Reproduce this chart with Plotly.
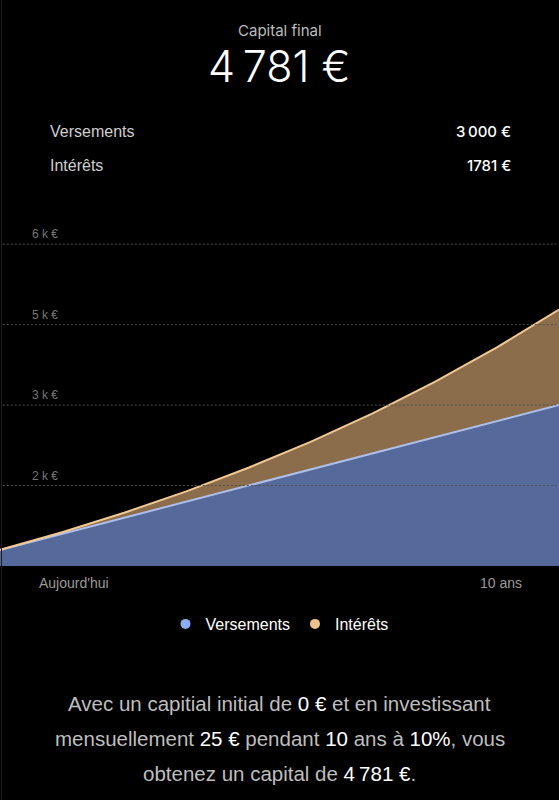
import plotly.graph_objects as go

# ---- data ----
years = [1, 2, 3, 4, 5, 6, 7, 8, 9, 10]
versements = [300, 600, 900, 1200, 1500, 1800, 2100, 2400, 2700, 3000]
interets = [0, 30, 93, 192, 332, 515, 746, 1031, 1374, 1781]
ytick_vals = [1500, 3000, 4500, 6000]
ytick_text = ["2\u00a0k\u00a0€", "3\u00a0k\u00a0€", "5\u00a0k\u00a0€", "6\u00a0k\u00a0€"]
x_labels = ["Aujourd'hui", "10 ans"]
summary_labels = ["Versements", "Intérêts"]
summary_values = ["3\u202f000\u00a0€", "1781\u00a0€"]
final_label = "Capital final"
final_value = "4\u2009781 €"

W, H = 559, 800
T, B = 220, 234
PLOT_BOTTOM = H - B
PLOT_H = H - T - B

def py(p):
    return (PLOT_BOTTOM - p) / PLOT_H

def px(p):
    return p / W

FONT = "Liberation Sans, Arial, sans-serif"
BLUE_FILL = "#56699B"
BLUE_LINE = "#AEBFEA"
OR_FILL = "#8B6D4C"
OR_LINE = "#F3C891"

fig = go.Figure()
fig.add_trace(go.Scatter(x=years, y=versements, stackgroup="s", mode="lines",
                         line=dict(color=BLUE_LINE, width=2), fillcolor=BLUE_FILL,
                         showlegend=False, name="Versements"))
fig.add_trace(go.Scatter(x=years, y=interets, stackgroup="s", mode="lines",
                         line=dict(color=OR_LINE, width=2), fillcolor=OR_FILL,
                         showlegend=False, name="Intérêts"))
# legend entries
fig.add_trace(go.Scatter(x=[None], y=[None], mode="markers", name="Versements",
                         marker=dict(color="#8FAAF0", size=10)))
fig.add_trace(go.Scatter(x=[None], y=[None], mode="markers", name="Intérêts",
                         marker=dict(color="#EFC18F", size=10)))

def text_ann(text, x, y, size, color, xanchor="center", family=FONT, weight=None, yref="paper", yshift=0):
    f = dict(family=family, size=size, color=color)
    if weight:
        f["weight"] = weight
    return dict(text=text, x=x, y=y, xref="paper", yref=yref, xanchor=xanchor, yanchor="middle",
                yshift=yshift, showarrow=False, font=f, borderpad=0)

ann = []
ann.append(text_ann(final_label, 0.5, py(30), 15, "#BDBDBD", family="Inter, sans-serif"))
ann.append(text_ann(final_value, 0.5, py(66), 43, "#FFFFFF", family="Inter, sans-serif", weight=300))
for i, (lab, val) in enumerate(zip(summary_labels, summary_values)):
    yy = py(132 + 34 * i)
    ann.append(text_ann(lab, px(49), yy, 16, "#CFCFCF", xanchor="left"))
    ann.append(text_ann(val, px(512), yy, 15, "#FFFFFF", xanchor="right", family="Inter, sans-serif", weight=500))
for v, t in zip(ytick_vals, ytick_text):
    ann.append(text_ann(t, px(31), v, 12, "#767676", xanchor="left", yref="y", yshift=10))
ann.append(text_ann(x_labels[0], px(38), py(583), 14, "#9A9A9A", xanchor="left"))
ann.append(text_ann(x_labels[1], px(523), py(583), 14, "#9A9A9A", xanchor="right"))

W_ = "<span style='color:#FFFFFF'>%s</span>"
lines = [
    "Avec un capitial initial de " + W_ % "0 €" + " et en investissant",
    "mensuellement " + W_ % "25 €" + " pendant " + W_ % "10" + " ans à " + W_ % "10%" + ", vous",
    "obtenez un capital de " + W_ % "4\u2009781 €" + ".",
]
for i, l in enumerate(lines):
    ann.append(text_ann(l, 0.5, py(703 + 35 * i), 20.5, "#BEBEBE"))

shapes = []
for v in ytick_vals:
    shapes.append(dict(type="line", xref="paper", yref="y", x0=0.005, x1=0.995, y0=v, y1=v,
                       line=dict(color="#505050", width=1, dash="2px,2px"), layer="above"))
shapes.append(dict(type="line", xref="paper", yref="paper", x0=px(1.5), x1=px(1.5),
                   y0=py(H), y1=py(0), line=dict(color="#1E1E1E", width=1), layer="above"))

fig.update_layout(
    width=W, height=H,
    margin=dict(l=0, r=0, t=T, b=B),
    paper_bgcolor="#000000", plot_bgcolor="#000000",
    xaxis=dict(range=[1, 10], visible=False, fixedrange=True),
    yaxis=dict(range=[0, 6450], visible=False, fixedrange=True),
    annotations=ann, shapes=shapes,
    showlegend=True,
    legend=dict(orientation="h", x=0.5, xanchor="center", y=py(624), yanchor="middle",
                traceorder="normal",
                font=dict(family=FONT, size=16, color="#FFFFFF"), bgcolor="rgba(0,0,0,0)",
                itemclick=False, itemdoubleclick=False),
    hovermode=False,
)
fig.write_html("out.html", config={"displayModeBar": False},
               post_script="document.body.style.margin='0';document.body.style.background='#000';")
